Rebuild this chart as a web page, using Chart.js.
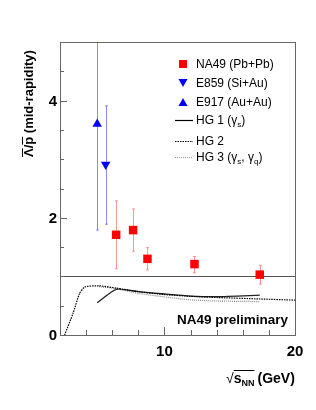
<!DOCTYPE html>
<html>
<head>
<meta charset="utf-8">
<script src="https://cdn.jsdelivr.net/npm/chart.js@4.4.1/dist/chart.umd.min.js"></script>
<style>
  body { margin: 0; background: #fff; }
  canvas { display: block; }
</style>
</head>
<body>
<canvas id="ratioChart" width="316" height="410"></canvas>
<script>
// NA49 Pb+Pb points
const na49X = [6.3, 7.6, 8.7, 12.3, 17.3];
const na49Y = [1.71, 1.79, 1.30, 1.21, 1.03];
const na49Lo = [1.13, 1.43, 1.11, 1.06, 0.87];
const na49Hi = [2.29, 2.15, 1.49, 1.34, 1.19];

// E859 Si+Au, E917 Au+Au
const e859X = [5.5];
const e859Y = [2.91];
const e859Lo = [1.89];
const e859Hi = [3.91];
const e917X = [4.85];
const e917Y = [3.60];
const e917Lo = [1.79];
const e917Hi = [5.6];

// hadron gas model curves
const hg1X = [4.85, 6.3, 8.0, 10.0, 12.0, 14.0, 17.3];
const hg1Y = [0.55, 0.78, 0.74, 0.70, 0.665, 0.655, 0.68];
const hg2X = [2.35, 3.0, 3.5, 3.9, 5.0, 6.3, 8.0, 10.0, 12.0, 14.0, 17.3, 20.0];
const hg2Y = [0.0, 0.37, 0.71, 0.82, 0.84, 0.80, 0.74, 0.69, 0.66, 0.64, 0.615, 0.595];
const hg3X = [4.85, 6.3, 8.0, 10.0, 12.0, 14.0, 17.3];
const hg3Y = [0.83, 0.79, 0.71, 0.65, 0.60, 0.58, 0.57];

const xTickLabels = [10, 20];
const yTickLabels = [0, 2, 4];

function pts(xs, ys) {
    return xs.map((x, i) => ({ x: x, y: ys[i] }));
}

const FONT = "'Liberation Sans', Arial, sans-serif";

// error bars under the markers
const errorBars = {
    id: "errorBars",
    beforeDatasetsDraw(chart) {
        const ctx = chart.ctx;
        const xs = chart.scales.x, ys = chart.scales.y;
        const a = chart.chartArea;
        ctx.save();
        ctx.beginPath();
        ctx.rect(a.left, a.top, a.right - a.left, a.bottom - a.top);
        ctx.clip();
        const sets = [
            [na49X, na49Lo, na49Hi, "rgba(255,80,80,0.6)"],
            [e859X, e859Lo, e859Hi, "rgba(90,90,255,0.7)"],
            [e917X, e917Lo, e917Hi, "rgba(90,90,255,0.7)"],
        ];
        ctx.lineWidth = 1;
        sets.forEach(([x, lo, hi, col]) => {
            ctx.strokeStyle = col;
            x.forEach((v, i) => {
                const px = Math.round(xs.getPixelForValue(v)) + 0.5;
                const p1 = ys.getPixelForValue(lo[i]);
                const p2 = ys.getPixelForValue(hi[i]);
                ctx.beginPath();
                ctx.moveTo(px, p1); ctx.lineTo(px, p2);
                ctx.moveTo(px - 1.5, p1); ctx.lineTo(px + 1.5, p1);
                ctx.moveTo(px - 1.5, p2); ctx.lineTo(px + 1.5, p2);
                ctx.stroke();
            });
        });
        // line at ratio = 1
        ctx.strokeStyle = "#555";
        const y1 = Math.round(ys.getPixelForValue(1)) + 0.5;
        ctx.beginPath();
        ctx.moveTo(a.left, y1); ctx.lineTo(a.right, y1);
        ctx.stroke();
        ctx.restore();
    },
};

function runs(ctx, x, y, parts) {
    parts.forEach(([t, f, dy]) => {
        ctx.font = f;
        ctx.fillText(t, x, y + (dy || 0));
        x += ctx.measureText(t).width;
    });
    return x;
}

const frame = {
    id: "frame",
    afterDraw(chart) {
        const ctx = chart.ctx;
        const a = chart.chartArea;
        const xs = chart.scales.x, ys = chart.scales.y;
        ctx.save();
        ctx.strokeStyle = "#666";
        ctx.lineWidth = 1;
        ctx.strokeRect(Math.round(a.left) + 0.5, Math.round(a.top) + 0.5,
            Math.round(a.right - a.left), Math.round(a.bottom - a.top));

        // inward ticks
        ctx.beginPath();
        for (let v = 2; v < 20; v += 2) {
            const px = Math.round(xs.getPixelForValue(v)) + 0.5;
            const len = v % 10 === 0 ? 8 : 5;
            ctx.moveTo(px, a.bottom); ctx.lineTo(px, a.bottom - len);
        }
        for (let v = 0.5; v < 5; v += 0.5) {
            const py = Math.round(ys.getPixelForValue(v)) + 0.5;
            const len = v % 2 === 0 ? 7 : 4;
            ctx.moveTo(a.left, py); ctx.lineTo(a.left + len, py);
        }
        ctx.stroke();

        // tick labels
        ctx.fillStyle = "#000";
        ctx.font = "bold 15px " + FONT;
        ctx.textBaseline = "middle";
        ctx.textAlign = "right";
        yTickLabels.forEach((v) => {
            ctx.fillText(String(v), a.left - 3, ys.getPixelForValue(v) + 1);
        });
        ctx.textAlign = "center";
        ctx.textBaseline = "top";
        xTickLabels.forEach((v) => {
            ctx.fillText(String(v), xs.getPixelForValue(v), a.bottom + 9);
        });

        // axis titles
        ctx.textAlign = "left";
        ctx.textBaseline = "alphabetic";
        const bf = "bold 14px " + FONT;
        const sf = "bold 9px " + FONT;
        let tx = 226;
        ctx.font = "14px " + FONT;
        ctx.fillText("\u221A", tx, 383);
        tx += ctx.measureText("\u221A").width;
        const sx = tx;
        tx = runs(ctx, tx, 383, [["s", bf], ["NN", sf, 3]]);
        ctx.beginPath();
        ctx.moveTo(sx, 370.5); ctx.lineTo(tx, 370.5);
        ctx.strokeStyle = "#000";
        ctx.stroke();
        runs(ctx, tx + 3, 383, [["(GeV)", bf]]);

        // y title with bars over Lambda and p
        ctx.save();
        ctx.translate(33, 157);
        ctx.rotate(-Math.PI / 2);
        ctx.font = "bold 13px " + FONT;
        const wL = ctx.measureText("\u039B").width;
        const wS = ctx.measureText("\u039B/").width;
        const wP = ctx.measureText("\u039B/p").width;
        ctx.fillText("\u039B/p (mid-rapidity)", 0, 0);
        ctx.lineWidth = 1;
        ctx.beginPath();
        ctx.moveTo(0, -10.5); ctx.lineTo(wL, -10.5);
        ctx.moveTo(wS, -10.5); ctx.lineTo(wP, -10.5);
        ctx.stroke();
        ctx.restore();

        // label
        ctx.font = "bold 13.5px " + FONT;
        ctx.fillText("NA49 preliminary", 177, 324);

        // legend
        const lf = "12px " + FONT;
        const lsub = "8px " + FONT;
        const rows = [64, 83, 102, 120, 141, 157];
        ctx.fillStyle = "#ff0000";
        ctx.fillRect(179, rows[0] - 4, 8, 8);
        ctx.fillStyle = "#0000ff";
        ctx.beginPath();
        ctx.moveTo(178.5, rows[1] - 4); ctx.lineTo(187.5, rows[1] - 4); ctx.lineTo(183, rows[1] + 4);
        ctx.closePath(); ctx.fill();
        ctx.beginPath();
        ctx.moveTo(178.5, rows[2] + 4); ctx.lineTo(187.5, rows[2] + 4); ctx.lineTo(183, rows[2] - 4);
        ctx.closePath(); ctx.fill();
        ctx.lineWidth = 1.2;
        ctx.strokeStyle = "#000";
        ctx.beginPath(); ctx.moveTo(175, rows[3] + 0.5); ctx.lineTo(193, rows[3] + 0.5); ctx.stroke();
        ctx.setLineDash([1.5, 1]);
        ctx.beginPath(); ctx.moveTo(175, rows[4] + 0.5); ctx.lineTo(193, rows[4] + 0.5); ctx.stroke();
        ctx.strokeStyle = "#999";
        ctx.setLineDash([1, 1]);
        ctx.beginPath(); ctx.moveTo(175, rows[5] + 0.5); ctx.lineTo(193, rows[5] + 0.5); ctx.stroke();
        ctx.setLineDash([]);

        ctx.fillStyle = "#000";
        const lx = 196;
        runs(ctx, lx, rows[0] + 4, [["NA49 (Pb+Pb)", lf]]);
        runs(ctx, lx, rows[1] + 4, [["E859 (Si+Au)", lf]]);
        runs(ctx, lx, rows[2] + 4, [["E917 (Au+Au)", lf]]);
        runs(ctx, lx, rows[3] + 4, [["HG 1 (\u03B3", lf], ["s", lsub, 3], [")", lf]]);
        runs(ctx, lx, rows[4] + 4, [["HG 2", lf]]);
        runs(ctx, lx, rows[5] + 4, [["HG 3 (\u03B3", lf], ["s", lsub, 3], [", \u03B3", lf], ["q", lsub, 3], [")", lf]]);
        ctx.restore();
    },
};

new Chart(document.getElementById("ratioChart"), {
    type: "scatter",
    data: {
        datasets: [
            {
                label: "HG 2",
                data: pts(hg2X, hg2Y),
                showLine: true,
                borderColor: "#000",
                borderWidth: 1.2,
                borderDash: [1.5, 1],
                pointRadius: 0,
                tension: 0.2,
            },
            {
                label: "HG 3",
                data: pts(hg3X, hg3Y),
                showLine: true,
                borderColor: "#888",
                borderWidth: 1.2,
                borderDash: [1, 1],
                pointRadius: 0,
                tension: 0.2,
            },
            {
                label: "HG 1",
                data: pts(hg1X, hg1Y),
                showLine: true,
                borderColor: "#222",
                borderWidth: 1.3,
                pointRadius: 0,
                tension: 0.2,
            },
            {
                label: "NA49 (Pb+Pb)",
                data: pts(na49X, na49Y),
                pointStyle: "rect",
                pointRadius: 6,
                backgroundColor: "#ff0000",
                borderWidth: 0,
            },
            {
                label: "E859 (Si+Au)",
                data: pts(e859X, e859Y),
                pointStyle: "triangle",
                rotation: 180,
                pointRadius: 5.5,
                backgroundColor: "#0000ff",
                borderWidth: 0,
            },
            {
                label: "E917 (Au+Au)",
                data: pts(e917X, e917Y),
                pointStyle: "triangle",
                pointRadius: 5.5,
                backgroundColor: "#0000ff",
                borderWidth: 0,
            },
        ],
    },
    options: {
        responsive: false,
        animation: false,
        layout: { padding: { left: 60, right: 21, top: 42, bottom: 75 } },
        plugins: {
            legend: { display: false },
            tooltip: { enabled: false },
        },
        scales: {
            x: { type: "linear", min: 2, max: 20, display: false },
            y: { type: "linear", min: 0, max: 5, display: false },
        },
    },
    plugins: [errorBars, frame],
});
</script>
</body>
</html>
